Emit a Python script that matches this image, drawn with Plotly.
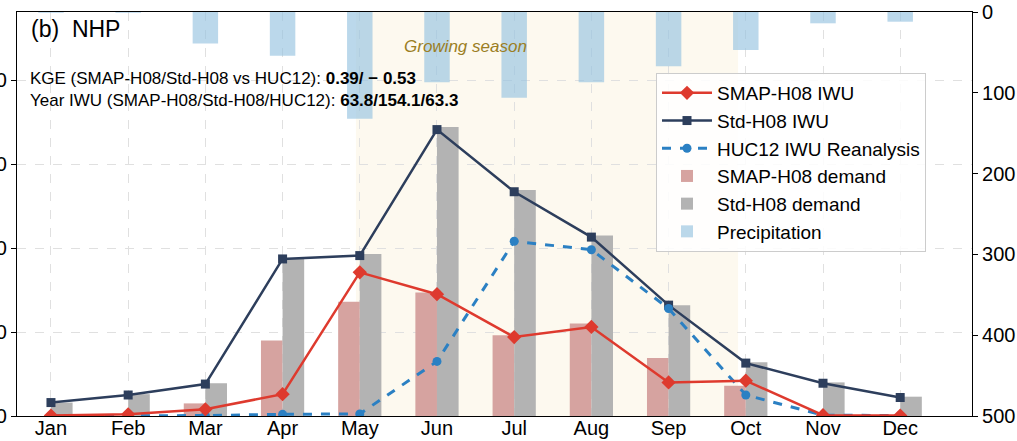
import plotly.graph_objects as go

months = ["Jan", "Feb", "Mar", "Apr", "May", "Jun", "Jul", "Aug", "Sep", "Oct", "Nov", "Dec"]
smap_iwu = [0.05, 0.2, 0.8, 2.6, 17.1, 14.5, 9.4, 10.6, 4.0, 4.2, 0.1, 0.05]
std_iwu = [1.6, 2.5, 3.8, 18.7, 19.1, 34.1, 26.7, 21.3, 13.2, 6.3, 3.9, 2.2]
huc12_iwu = [0.02, 0.02, 0.05, 0.2, 0.25, 6.5, 20.8, 19.8, 12.8, 2.5, 0.1, 0.05]
smap_demand = [0.0, 0.0, 1.5, 9.0, 13.6, 14.7, 9.6, 11.0, 6.9, 3.6, 0.0, 0.0]
std_demand = [1.6, 2.6, 3.9, 18.7, 19.3, 34.4, 26.9, 21.5, 13.2, 6.4, 4.0, 2.3]
precip = [1, 1, 39, 54, 132, 87, 106, 87, 67, 47, 14, 12]
left_ticks = [0, 10, 20, 30, 40]
right_ticks = [0, 100, 200, 300, 400, 500]
growing_season = [3.95, 8.9]

x = list(range(len(months)))
FONT = "Liberation Sans, Arial, sans-serif"

W, H = 1017, 441
L, R, T, B = 17, 972, 12, 416


def px_x(p):
    return (p - L) / (R - L)


def px_y(p):
    return (B - p) / (B - T)


fig = go.Figure()

bw = 0.28
fig.add_trace(go.Bar(x=x, y=smap_demand, width=bw, offset=-bw, name="SMAP-H08 demand",
                     marker=dict(color="#d6a3a0", line=dict(width=0)), legendrank=4))
fig.add_trace(go.Bar(x=x, y=std_demand, width=bw, offset=0, name="Std-H08 demand",
                     marker=dict(color="#b3b3b3", line=dict(width=0)), legendrank=5))

fig.add_trace(go.Scatter(x=x, y=std_iwu, mode="lines+markers", name="Std-H08 IWU",
                         line=dict(color="#2d3e5c", width=2.5),
                         marker=dict(symbol="square", size=9, color="#2d3e5c"), legendrank=2))
fig.add_trace(go.Scatter(x=x, y=huc12_iwu, mode="lines+markers", name="HUC12 IWU Reanalysis",
                         line=dict(color="#2b80c3", width=3, dash="dash"),
                         marker=dict(symbol="circle", size=9, color="#2b80c3"), legendrank=3))
fig.add_trace(go.Scatter(x=x, y=smap_iwu, mode="lines+markers", name="SMAP-H08 IWU",
                         line=dict(color="#de3a2e", width=2.5),
                         marker=dict(symbol="diamond", size=11, color="#de3a2e"), legendrank=1))

fig.add_trace(go.Bar(x=x, y=precip, width=0.33, name="Precipitation", yaxis="y2",
                     marker=dict(color="rgba(150,195,225,0.65)", line=dict(width=0)),
                     legendrank=6))

fig.add_shape(type="rect", xref="x", yref="paper", x0=growing_season[0], x1=growing_season[1],
              y0=0, y1=1, fillcolor="#fdf9ef", line=dict(width=0), layer="below")

fig.add_annotation(xref="paper", yref="paper", x=px_x(29), y=px_y(29), xanchor="left",
                   yanchor="middle", text="(b)  NHP", showarrow=False,
                   font=dict(family=FONT, size=23, color="black"))
fig.add_annotation(xref="paper", yref="paper", x=px_x(28), y=px_y(78), xanchor="left",
                   yanchor="middle", text="KGE (SMAP-H08/Std-H08 vs HUC12): <b>0.39/ \u2212 0.53</b>",
                   showarrow=False, font=dict(family=FONT, size=17, color="black"))
fig.add_annotation(xref="paper", yref="paper", x=px_x(28), y=px_y(101), xanchor="left",
                   yanchor="middle", text="Year IWU (SMAP-H08/Std-H08/HUC12): <b>63.8/154.1/63.3</b>",
                   showarrow=False, font=dict(family=FONT, size=17, color="black"))
fig.add_annotation(xref="paper", yref="paper", x=px_x(465), y=px_y(47), xanchor="center",
                   yanchor="middle", text="<i>Growing season</i>", showarrow=False,
                   font=dict(family=FONT, size=17, color="#9b7e24"))

fig.update_layout(
    width=W, height=H,
    margin=dict(l=L, r=W - R, t=T, b=H - B, pad=0, autoexpand=False),
    paper_bgcolor="white", plot_bgcolor="white",
    barmode="overlay",
    font=dict(family=FONT, size=20, color="black"),
    showlegend=True,
    legend=dict(x=px_x(656), y=px_y(73), xanchor="left", yanchor="top",
                bgcolor="rgba(255,255,255,0.85)", bordercolor="#cccccc", borderwidth=1,
                font=dict(family=FONT, size=19, color="black"), itemwidth=50,
                tracegroupgap=0),
    xaxis=dict(range=[-0.44, 11.93], tickvals=x, ticktext=months, ticks="",
               showgrid=True, gridcolor="#e0e0e0", griddash="dash", gridwidth=1,
               showline=True, linecolor="black", linewidth=1.2, mirror=True,
               zeroline=False, automargin=False, tickfont=dict(size=20),
               ticklabelstandoff=-6),
    yaxis=dict(range=[0, 48.1], tickvals=left_ticks, ticks="outside", ticklen=5,
               tickcolor="black", showgrid=True, gridcolor="#e0e0e0", griddash="dash",
               gridwidth=1, showline=True, linecolor="black", linewidth=1.2,
               zeroline=False, automargin=False, tickfont=dict(size=20)),
    yaxis2=dict(range=[500, 0], overlaying="y", side="right", tickvals=right_ticks,
                ticks="outside", ticklen=5, tickcolor="black", showgrid=False,
                showline=True, linecolor="black", linewidth=1.2, zeroline=False,
                automargin=False, tickfont=dict(size=20)),
)

fig.write_html("out.html")
